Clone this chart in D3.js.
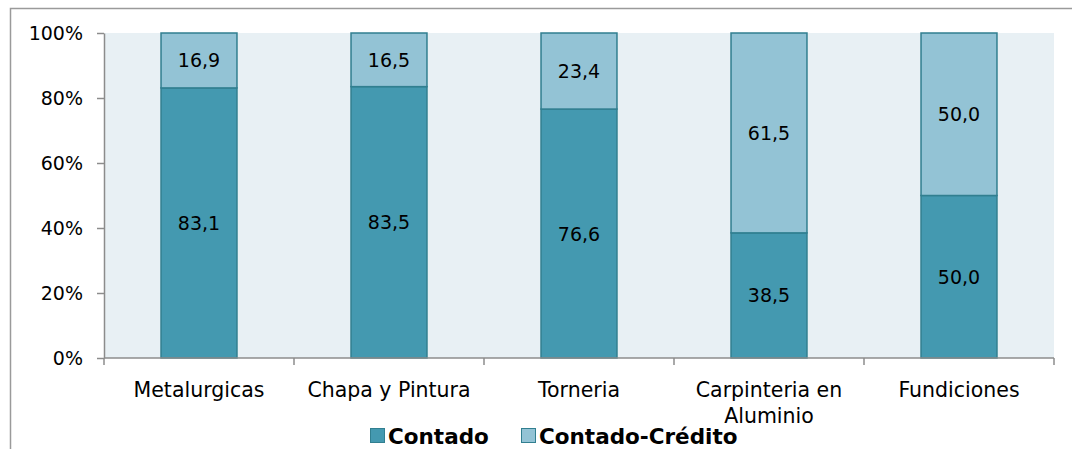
<!DOCTYPE html>
<html>
<head>
<meta charset="utf-8">
<script src="https://cdn.jsdelivr.net/npm/d3@7"></script>
<style>
  html, body { margin: 0; padding: 0; background: #ffffff; }
  svg { display: block; }
  text { font-family: "DejaVu Sans", Verdana, sans-serif; fill: #000; }
</style>
</head>
<body>
<svg id="chart" width="1072" height="449"></svg>
<script>
// Forma de pago por rubro (%)
const categories = ["Metalurgicas", "Chapa y Pintura", "Torneria", "Carpinteria en Aluminio", "Fundiciones"];
const contado = [83.1, 83.5, 76.6, 38.5, 50.0];
const contadoCredito = [16.9, 16.5, 23.4, 61.5, 50.0];
const seriesNames = ["Contado", "Contado-Crédito"];
const yTicks = [0, 20, 40, 60, 80, 100];

const colors = { "Contado": "#4499b0", "Contado-Crédito": "#93c3d5" };
const strokeColor = "#317f90";

const svg = d3.select("#chart");
const W = 1072, H = 449;
const margin = { left: 104, right: 18, top: 33, bottom: 91 };
const plotW = W - margin.left - margin.right;
const plotH = H - margin.top - margin.bottom;

// Outer chart frame
svg.append("path")
  .attr("d", `M10.5,${H + 2} V8.5 H${W + 2}`)
  .attr("fill", "none").attr("stroke", "#9a9a9a").attr("stroke-width", 1.5);

const g = svg.append("g").attr("transform", `translate(${margin.left},${margin.top})`);

const x = d3.scaleBand().domain(categories).range([0, plotW]).paddingInner(0.595).paddingOuter(0.2975);
const xBand = d3.scaleBand().domain(categories).range([0, plotW]);
const y = d3.scaleLinear().domain([0, 100]).range([plotH, 0]);

// Plot background
g.append("rect").attr("x", 0).attr("y", 0).attr("width", plotW).attr("height", plotH).attr("fill", "#e8f0f4");

// Stacked data
const rows = categories.map((c, i) => ({ cat: c, "Contado": contado[i], "Contado-Crédito": contadoCredito[i] }));
const stacked = d3.stack().keys(seriesNames)(rows);

const layers = g.selectAll(".layer").data(stacked).join("g").attr("class", "layer")
  .attr("fill", d => colors[d.key]);

layers.selectAll("rect").data(d => d).join("rect")
  .attr("x", d => x(d.data.cat) + 0.5)
  .attr("y", d => y(d[1]))
  .attr("width", x.bandwidth() - 1)
  .attr("height", d => y(d[0]) - y(d[1]))
  .attr("stroke", strokeColor).attr("stroke-width", 1.5);

// Value labels
const fmt = v => d3.format(".1f")(v).replace(".", ",");
layers.selectAll("text").data(d => d).join("text")
  .attr("x", d => x(d.data.cat) + x.bandwidth() / 2)
  .attr("y", d => (y(d[0]) + y(d[1])) / 2)
  .attr("text-anchor", "middle").attr("dominant-baseline", "central")
  .style("font-size", "19px")
  .text(d => fmt(d[1] - d[0]));

// Y axis
const yAxis = g.append("g").call(d3.axisLeft(y).tickValues(yTicks).tickFormat(d => d + "%").tickSize(7).tickSizeOuter(0));
yAxis.select(".domain").attr("stroke", "#8c8c8c").attr("stroke-width", 1.5);
yAxis.selectAll(".tick line").attr("stroke", "#8c8c8c").attr("stroke-width", 1.5);
yAxis.selectAll(".tick text").attr("x", -21).style("font-size", "19px").style("font-family", "DejaVu Sans, Verdana, sans-serif").attr("fill", "#000");

// X axis with ticks at category boundaries
const xAxisG = g.append("g").attr("transform", `translate(0,${plotH})`);
xAxisG.append("line").attr("x1", 0).attr("x2", plotW).attr("stroke", "#8c8c8c").attr("stroke-width", 1.5);
const bounds = categories.map(c => xBand(c)).concat([plotW]);
xAxisG.selectAll(".xt").data(bounds).join("line").attr("class", "xt")
  .attr("x1", d => d).attr("x2", d => d).attr("y1", 0).attr("y2", 7)
  .attr("stroke", "#8c8c8c").attr("stroke-width", 1.5);

// Category labels (wrapped to band width)
const labelLines = c => c === "Carpinteria en Aluminio" ? ["Carpinteria en", "Aluminio"] : [c];
xAxisG.selectAll(".xl").data(categories).join("text").attr("class", "xl")
  .attr("text-anchor", "middle")
  .style("font-size", "20.5px")
  .each(function (c) {
    const t = d3.select(this);
    labelLines(c).forEach((ln, i) => {
      t.append("tspan").attr("x", xBand(c) + xBand.bandwidth() / 2).attr("y", 39 + i * 26).text(ln);
    });
  });

// Legend
const legend = svg.append("g").attr("transform", "translate(370,436)");
const legendX = [0, 151];
seriesNames.forEach((s, i) => {
  const lg = legend.append("g").attr("transform", `translate(${legendX[i]},0)`);
  lg.append("rect").attr("x", 0.5).attr("y", -7.5).attr("width", 14).attr("height", 14)
    .attr("fill", colors[s]).attr("stroke", strokeColor).attr("stroke-width", 1);
  lg.append("text").attr("x", 18).attr("y", 0).attr("dominant-baseline", "central")
    .style("font-size", "21.5px").style("font-weight", "bold").text(s);
});
</script>
</body>
</html>
